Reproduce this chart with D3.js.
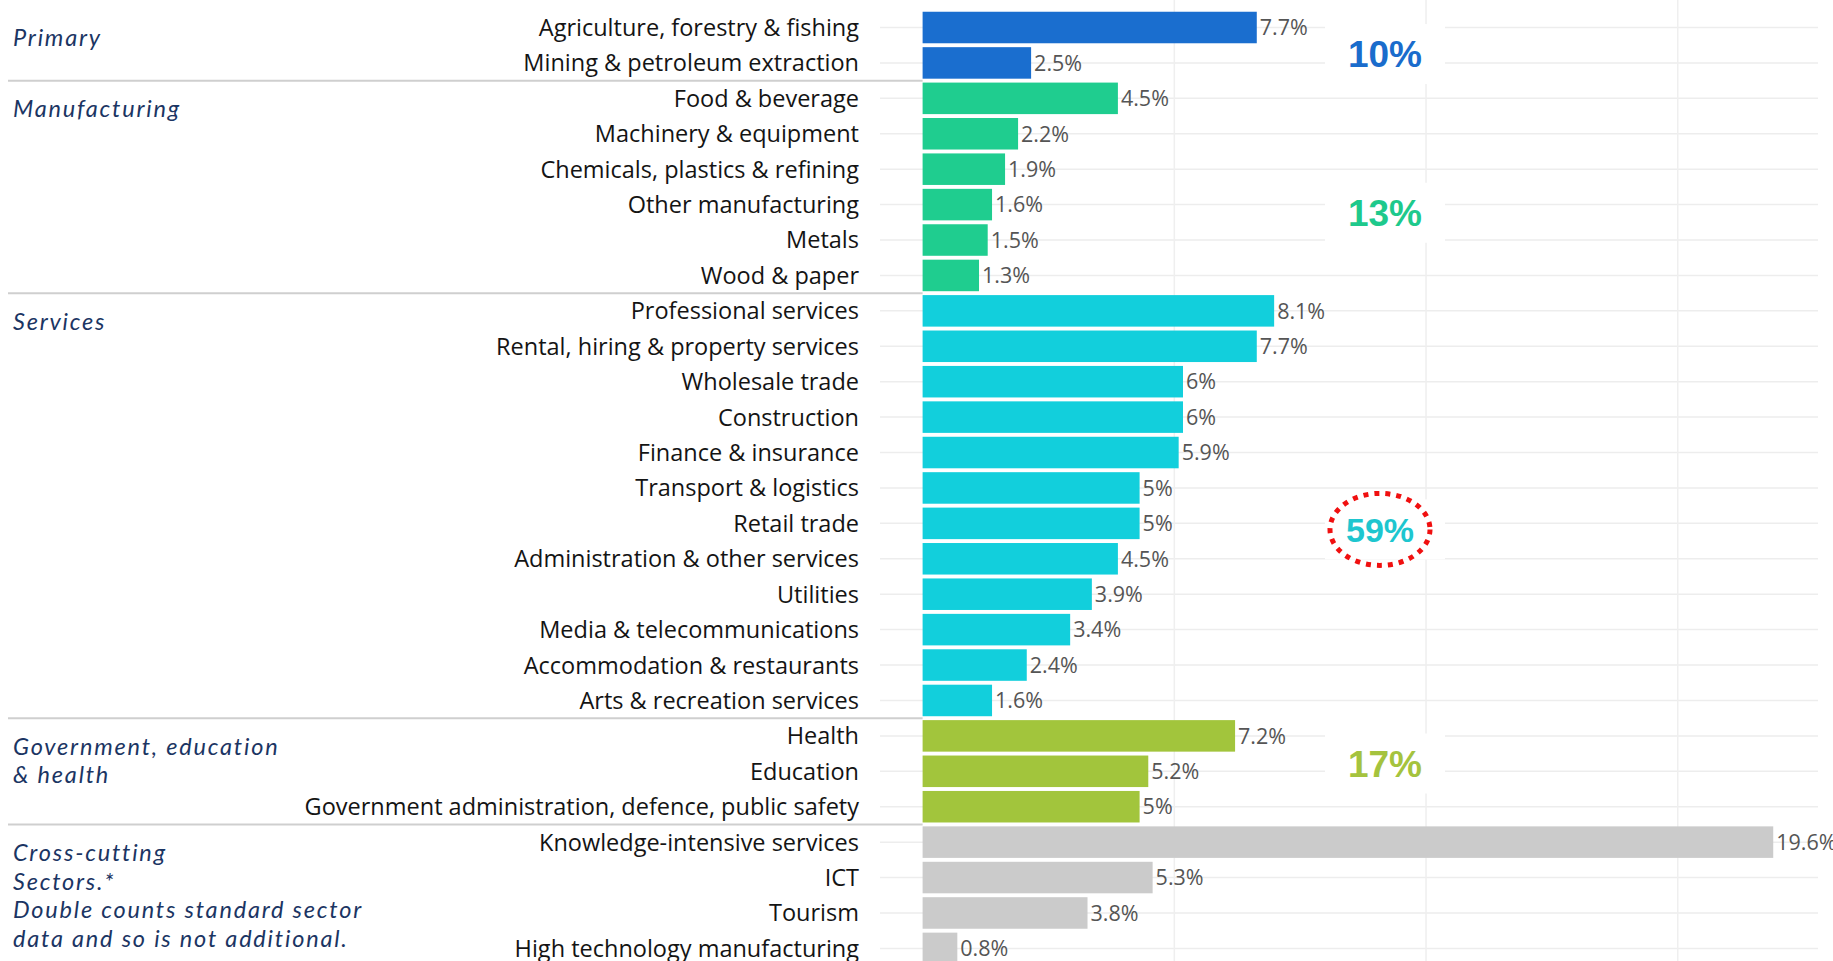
<!DOCTYPE html>
<html>
<head>
<meta charset="utf-8">
<script src="https://cdn.jsdelivr.net/npm/d3@7"></script>
<style>
  body { margin: 0; background: #fff; }
  svg { display: block; }
</style>
</head>
<body>
<svg id="chart"></svg>
<script>
// sector rows, top to bottom
const sectors = [
  "Agriculture, forestry & fishing", "Mining & petroleum extraction",
  "Food & beverage", "Machinery & equipment", "Chemicals, plastics & refining",
  "Other manufacturing", "Metals", "Wood & paper",
  "Professional services", "Rental, hiring & property services", "Wholesale trade",
  "Construction", "Finance & insurance", "Transport & logistics", "Retail trade",
  "Administration & other services", "Utilities", "Media & telecommunications",
  "Accommodation & restaurants", "Arts & recreation services",
  "Health", "Education", "Government administration, defence, public safety",
  "Knowledge-intensive services", "ICT", "Tourism", "High technology manufacturing"
];
const shares = [7.7, 2.5, 4.5, 2.2, 1.9, 1.6, 1.5, 1.3, 8.1, 7.7, 6, 6, 5.9, 5, 5,
  4.5, 3.9, 3.4, 2.4, 1.6, 7.2, 5.2, 5, 19.6, 5.3, 3.8, 0.8];
const shareLabels = ["7.7%", "2.5%", "4.5%", "2.2%", "1.9%", "1.6%", "1.5%", "1.3%",
  "8.1%", "7.7%", "6%", "6%", "5.9%", "5%", "5%", "4.5%", "3.9%", "3.4%", "2.4%", "1.6%",
  "7.2%", "5.2%", "5%", "19.6%", "5.3%", "3.8%", "0.8%"];
const groupOf = [0, 0, 1, 1, 1, 1, 1, 1, 2, 2, 2, 2, 2, 2, 2, 2, 2, 2, 2, 2, 3, 3, 3, 4, 4, 4, 4];

// groups
const groupNames = [
  ["Primary"],
  ["Manufacturing"],
  ["Services"],
  ["Government, education", "& health"],
  ["Cross-cutting", "Sectors.*", "Double counts standard sector", "data and so is not additional."]
];
const groupTotals = ["10%", "13%", "59%", "17%", null];
const groupColors = ["#1a6ecf", "#1fcd8f", "#12cfdc", "#a2c53c", "#cbcbcb"];
const totalColors = ["#1a6ccc", "#1ec98c", "#1ec6cf", "#a5c33e", null];

// grid positions on the value axis
const gridValues = [5.8, 11.6, 17.4];

const width = 1833, height = 961;
const svg = d3.select("#chart").attr("width", width).attr("height", height);

const xScale = d3.scaleLinear().domain([0, 20]).range([922.6, 922.6 + 868]);
const yScale = d3.scaleBand()
  .domain(sectors)
  .range([9.8, 966.1])
  .paddingInner(0.11)
  .paddingOuter(0.055);
const bw = yScale.bandwidth(), step = yScale.step();
const rowMid = i => yScale(sectors[i]) + bw / 2;

const labelFont = "'Open Sans', sans-serif";

// horizontal grid lines (row centres)
svg.append("g").selectAll("line")
  .data(sectors)
  .join("line")
    .attr("x1", 880).attr("x2", 1818)
    .attr("y1", d => yScale(d) + bw / 2).attr("y2", d => yScale(d) + bw / 2)
    .attr("stroke", "#ededed").attr("stroke-width", 1.5);

// vertical grid lines
svg.append("g").selectAll("line")
  .data(gridValues)
  .join("line")
    .attr("x1", d => xScale(d)).attr("x2", d => xScale(d))
    .attr("y1", 0).attr("y2", height)
    .attr("stroke", "#efefef").attr("stroke-width", 1.5);

// group separators
const groupStarts = groupOf.map((g, i) => i).filter(i => i > 0 && groupOf[i] !== groupOf[i - 1]);
svg.append("g").selectAll("line")
  .data(groupStarts)
  .join("line")
    .attr("x1", 8).attr("x2", xScale(0))
    .attr("y1", i => yScale(sectors[i]) - (step - bw) / 2)
    .attr("y2", i => yScale(sectors[i]) - (step - bw) / 2)
    .attr("stroke", "#cfcfcf").attr("stroke-width", 2);

// bars
svg.append("g").selectAll("rect")
  .data(sectors)
  .join("rect")
    .attr("x", xScale(0))
    .attr("y", d => yScale(d))
    .attr("width", (d, i) => xScale(shares[i]) - xScale(0))
    .attr("height", bw)
    .attr("fill", (d, i) => groupColors[groupOf[i]]);

// value labels
svg.append("g").selectAll("text")
  .data(sectors)
  .join("text")
    .attr("x", (d, i) => xScale(shares[i]) + 3)
    .attr("y", d => yScale(d) + bw / 2)
    .attr("dy", "0.36em")
    .attr("font-family", labelFont)
    .attr("font-size", 21.5)
    .attr("fill", "#555")
    .text((d, i) => shareLabels[i]);

// category labels
svg.append("g").selectAll("text")
  .data(sectors)
  .join("text")
    .attr("x", 859)
    .attr("y", d => yScale(d) + bw / 2)
    .attr("dy", "0.36em")
    .attr("text-anchor", "end")
    .attr("font-family", labelFont)
    .attr("font-size", 23.5)
    .attr("fill", "#141414")
    .text(d => d);

// group labels (italic, navy), one text per line
const groupFirst = groupNames.map((g, gi) => groupOf.indexOf(gi));
groupNames.forEach((lines, gi) => {
  const top = yScale(sectors[groupFirst[gi]]) - (step - bw) / 2;
  svg.append("g").selectAll("text")
    .data(lines)
    .join("text")
      .attr("x", 13)
      .attr("y", (d, k) => top + 28 + k * 28.8)
      .attr("dy", "0.36em")
      .attr("font-family", "Lato, sans-serif")
      .attr("font-style", "italic")
      .attr("font-size", 23.5)
      .attr("letter-spacing", 1.8)
      .attr("fill", "#1b3563")
      .text(d => d);
});

// group totals on the right, placed at fractional row positions
const totalRows = [0.75, 5.23, 14.17, 20.78];
const totalX = 1385;
totalRows.forEach((r, gi) => {
  const cy = rowMid(Math.floor(r)) + (r - Math.floor(r)) * step;
  svg.append("rect")
    .attr("x", totalX - 60).attr("y", cy - 30)
    .attr("width", 120).attr("height", 60)
    .attr("fill", "#fff");
  if (gi === 2) {
    svg.append("ellipse")
      .attr("cx", totalX - 5).attr("cy", cy)
      .attr("rx", 50).attr("ry", 36)
      .attr("fill", "none")
      .attr("stroke", "#f01010")
      .attr("stroke-width", 5)
      .attr("stroke-dasharray", "5 6");
  }
  svg.append("text")
    .attr("x", gi === 2 ? totalX - 5 : totalX)
    .attr("y", cy)
    .attr("dy", "0.36em")
    .attr("text-anchor", "middle")
    .attr("font-family", "'Liberation Sans', Arial, sans-serif")
    .attr("font-weight", "bold")
    .attr("font-size", gi === 2 ? 34 : 37)
    .attr("fill", totalColors[gi])
    .text(groupTotals[gi]);
});
</script>
</body>
</html>
